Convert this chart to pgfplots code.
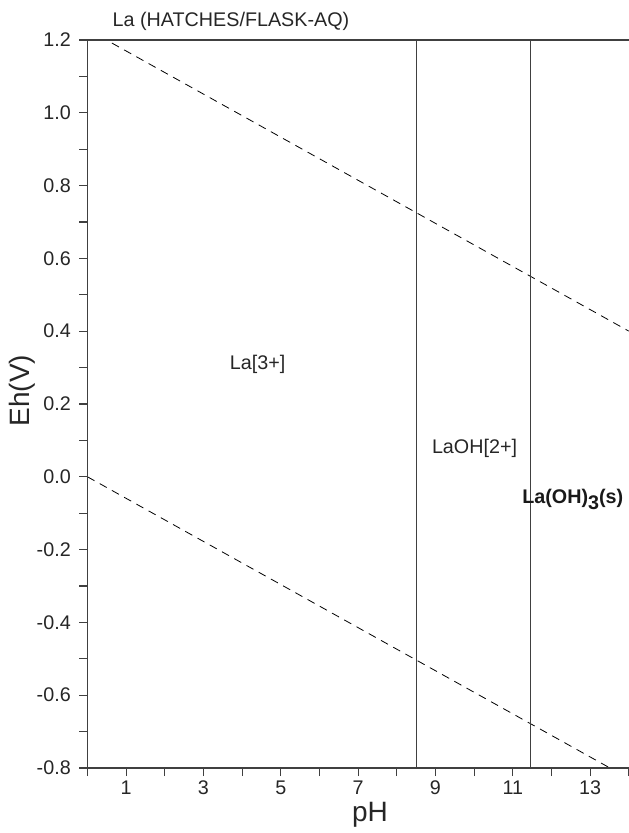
\documentclass[border=0pt]{standalone}
\usepackage{fontspec}
\setmainfont{Liberation Sans}
\usepackage{pgfplots}
\pgfplotsset{compat=1.18}
\definecolor{axgray}{HTML}{404040}
\begin{document}
\begin{tikzpicture}
\begin{axis}[
  scale only axis,
  width=406pt, height=546pt,
  xmin=0, xmax=14, ymin=-0.8, ymax=1.2,
  axis line style={draw=none},
  xtick={1,3,5,7,9,11,13},
  xticklabels={1,3,5,7,9,11,13},
  minor xtick={0,2,4,6,8,10,12,14},
  ytick={-0.8,-0.6,-0.4,-0.2,0,0.2,0.4,0.6,0.8,1.0,1.2},
  yticklabels={-0.8,-0.6,-0.4,-0.2,0.0,0.2,0.4,0.6,0.8,1.0,1.2},
  minor ytick={-0.7,-0.5,-0.3,-0.1,0.1,0.3,0.5,0.7,0.9,1.1},
  tick align=outside,
  xtick pos=bottom, ytick pos=left,
  major tick length=6pt, minor tick length=6pt,
  tick style={axgray, line width=0.8pt},
  ticklabel style={font=\fontsize{14.8}{17}\selectfont, text=black!85},
  xticklabel style={yshift=0pt},
  yticklabel style={xshift=-3pt},
  xlabel={pH}, ylabel={Eh(V)},
  xlabel style={at={(axis description cs:0.522,-0.064)}, anchor=center, font=\fontsize{21}{25}\selectfont, text=black!85},
  ylabel style={at={(axis description cs:-0.12,0.5185)}, anchor=center, font=\fontsize{21}{25}\selectfont, text=black!85},
  clip mode=individual,
]
\addplot[black, line width=0.6pt, dash pattern=on 6pt off 4.5pt] coordinates {(0,1.229) (14,0.4002)};
\addplot[black, line width=0.6pt, dash pattern=on 6pt off 4.5pt] coordinates {(0,0) (14,-0.8288)};
\addplot[axgray, line width=0.9pt] coordinates {(8.5,-0.8) (8.5,1.2)};
\addplot[axgray, line width=0.9pt] coordinates {(11.45,-0.8) (11.45,1.2)};
\node[font=\fontsize{14.8}{17}\selectfont, text=black!85] at (axis cs:4.4,0.31) {La[3+]};
\node[font=\fontsize{14.8}{17}\selectfont, text=black!85] at (axis cs:10.01,0.077) {LaOH[2+]};
\node[font=\fontsize{14.8}{17}\selectfont\bfseries, text=black!90] at (axis cs:12.55,-0.063) {La(OH)\raisebox{-0.3em}{3}(s)};
\node[font=\fontsize{14.8}{17}\selectfont, text=black!85, anchor=base west] at ([yshift=10.3pt]axis description cs:0.038,1) {La (HATCHES/FLASK-AQ)};
\end{axis}
\draw[axgray, line width=0.9pt] (current axis.north east) -- (current axis.north west) -- (current axis.south west) -- (current axis.south east);
\pgfresetboundingbox
\path ([shift={(-65.6pt,-48.75pt)}]current axis.south west) rectangle ([shift={(0pt,30pt)}]current axis.north east);
\end{tikzpicture}
\end{document}
